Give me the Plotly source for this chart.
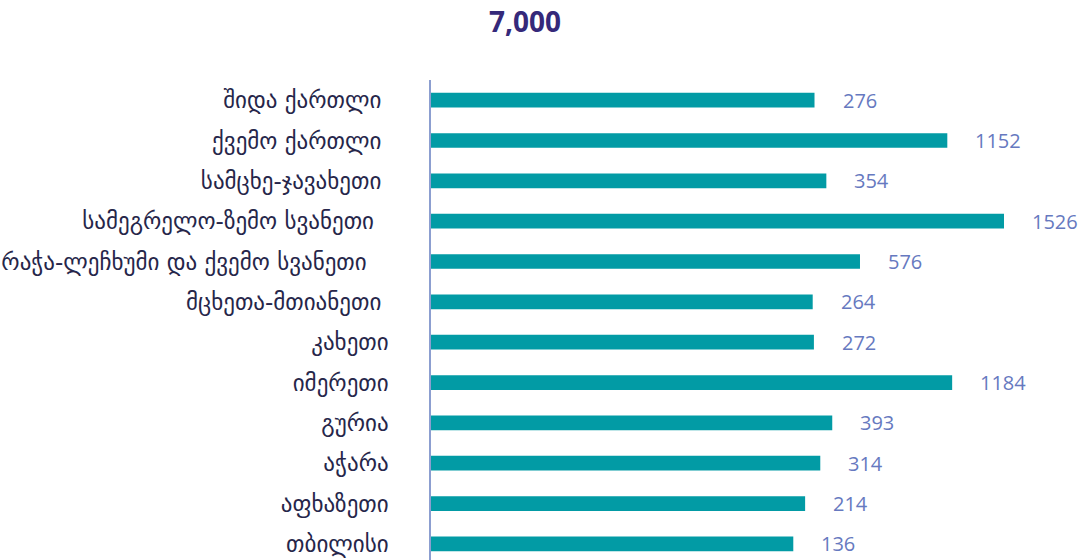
import plotly.graph_objects as go

# Regions (top to bottom) and their counts
regions = [
    "შიდა ქართლი ",
    "ქვემო ქართლი ",
    "სამცხე-ჯავახეთი ",
    "სამეგრელო-ზემო სვანეთი  ",
    "რაჭა-ლეჩხუმი და ქვემო სვანეთი   ",
    "მცხეთა-მთიანეთი ",
    "კახეთი",
    "იმერეთი",
    "გურია",
    "აჭარა",
    "აფხაზეთი",
    "თბილისი",
]
values = [276, 1152, 354, 1526, 576, 264, 272, 1184, 393, 314, 214, 136]
title_text = "7,000"

# Value axis window; bars are drawn from the left edge of the axis
AXIS_MIN = -2254
AXIS_MAX = 1968

BAR_COLOR = "#029BA5"
LABEL_COLOR = "#6679C0"
TITLE_COLOR = "#35297A"
TEXT_COLOR = "#26264A"
LINE_COLOR = "#8C9ED0"

fig = go.Figure()
fig.add_trace(
    go.Bar(
        y=regions,
        x=[v - AXIS_MIN for v in values],
        base=AXIS_MIN,
        orientation="h",
        width=0.365,
        marker=dict(color=BAR_COLOR, line=dict(width=0)),
        hovertext=[str(v) for v in values],
        hoverinfo="text",
        showlegend=False,
    )
)

# Value labels to the right of each bar end
for r, v in zip(regions, values):
    fig.add_annotation(
        x=v,
        y=r,
        xref="x",
        yref="y",
        text=str(v),
        showarrow=False,
        xanchor="left",
        yanchor="middle",
        xshift=26,
        font=dict(family="Open Sans, Noto Sans, sans-serif", size=20, color=LABEL_COLOR),
    )

fig.update_layout(
    width=1091,
    height=560,
    margin=dict(l=431, r=20, t=80, b=0),
    paper_bgcolor="white",
    plot_bgcolor="white",
    title=dict(
        text=f"<b>{title_text}</b>",
        x=525 / 1091,
        xanchor="center",
        y=1 - 22 / 560,
        yanchor="middle",
        xref="container",
        yref="container",
        font=dict(family="Open Sans, Noto Sans, sans-serif", size=28, color=TITLE_COLOR),
    ),
    xaxis=dict(
        range=[AXIS_MIN, AXIS_MAX],
        visible=False,
        showgrid=False,
        zeroline=False,
        fixedrange=True,
    ),
    yaxis=dict(
        type="category",
        categoryorder="array",
        categoryarray=regions,
        range=[11.40, -0.5],
        showgrid=False,
        zeroline=False,
        showline=True,
        linecolor=LINE_COLOR,
        linewidth=1.5,
        ticks="",
        ticklabelstandoff=36,
        tickfont=dict(family="DejaVu Sans, sans-serif", size=23, color=TEXT_COLOR),
        fixedrange=True,
    ),
)

fig.write_html("out.html")
